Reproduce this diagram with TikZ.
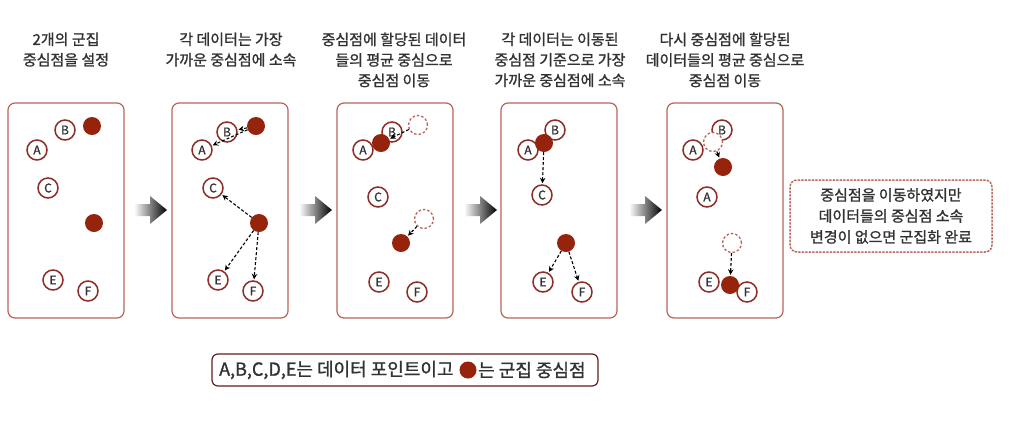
\documentclass[tikz,border=0pt]{standalone}
\usepackage{fontspec}
\setmainfont{Noto Sans CJK KR}[FakeBold=1.2]
\usetikzlibrary{positioning,arrows.meta}
\definecolor{DotRed}{RGB}{150,35,12}
\definecolor{RingRed}{RGB}{140,45,40}
\definecolor{FrameRed}{RGB}{185,100,90}
\definecolor{TextGray}{RGB}{50,50,50}
\tikzset{
	pt/.style={circle,draw=RingRed,fill=white,line width=1.5pt,minimum size=20pt,inner sep=0pt,
		font=\fontsize{12}{12}\selectfont,text=TextGray},
	cen/.style={circle,fill=DotRed,minimum size=18pt,inner sep=0pt},
	oldcen/.style={circle,draw=FrameRed,dash pattern=on 2.5pt off 2pt,fill=white,line width=1.3pt,
		minimum size=19pt,inner sep=0pt},
	move/.style={draw=black,dash pattern=on 3pt off 2pt,line width=1.1pt,-{Stealth[length=5.5pt,width=5.5pt]},shorten >=1pt},
	panel/.style={draw=FrameRed,line width=1.2pt,rounded corners=7pt},
	head/.style={align=center,text=TextGray,anchor=north,font=\fontsize{15}{20.5}\selectfont},
	note/.style={draw=FrameRed,line width=1.5pt,dash pattern=on 1.5pt off 2pt,line cap=round,rounded corners=7pt,
		align=center,text=TextGray,minimum width=202pt,minimum height=72pt,font=\fontsize{15}{21}\selectfont},
	keytext/.style={text=TextGray,inner sep=0pt,font=\fontsize{18}{18}\selectfont},
}

\begin{document}
\begin{tikzpicture}[x=1pt,y=-1pt]
	\useasboundingbox[fill=white] (0,0) rectangle (1010,424);
	% step captions
	\node[head] (h1) at (66,29) {2개의 군집\\중심점을 설정};
	\node[head] (h2) at (231,29) {각 데이터는 가장\\가까운 중심점에 소속};
	\node[head] (h3) at (394,29) {중심점에 할당된 데이터\\들의 평균 중심으로\\중심점 이동};
	\node[head] (h4) at (560,29) {각 데이터는 이동된\\중심점 기준으로 가장\\가까운 중심점에 소속};
	\node[head] (h5) at (725,29) {다시 중심점에 할당된\\데이터들의 평균 중심으로\\중심점 이동};
	% panels and step arrows
	\foreach \x in {8,172,337,501,667}
		\draw[panel] (\x,103) rectangle ++(116,215);
	\foreach \x in {134,299,464,629}
		\shade[left color=white,right color=black] (\x,204) -- (\x+16,204) -- (\x+16,196) -- (\x+33,210)
			-- (\x+16,224) -- (\x+16,216) -- (\x,216) -- cycle;
	% data points
	\foreach \p/\l/\x/\y in {a1/A/37/150,b1/B/65/130,c1/C/48/188,e1/E/53/280,f1/F/88/291,
		a2/A/202/150,b2/B/227/132,c2/C/213/188,e2/E/218/280,f2/F/253/291,
		a3/A/363/150,b3/B/392/132,c3/C/378/197,e3/E/379/282,f3/F/417/292,
		a4/A/528/150,b4/B/555/130,c4/C/542/195,e4/E/543/282,f4/F/582/292,
		a5/A/693/150,b5/B/722/130,c5/A/707/197,e5/E/709/282,f5/F/747/292}
		\node[pt] (\p) at (\x,\y) {\l};
	% old centroids
	\foreach \p/\x/\y in {o3t/418/125,o3b/424/219,o5t/713/142,o5b/732/243}
		\node[oldcen] (\p) at (\x,\y) {};
	% centroids
	\foreach \p/\x/\y in {k1t/92/126,k1b/94/223,k2t/256/126,k2b/259/223,k3t/381/143,k3b/401/243,
		k4t/544/143,k4b/566/243,k5t/723/167,k5b/730/285}
		\node[cen] (\p) at (\x,\y) {};
	% assignments and moves
	\foreach \s/\t in {k2t/b2,k2t/a2,k2b/c2,k2b/e2,k2b/f2,o3t/k3t,o3b/k3b,k4t/c4,k4b/e4,k4b/f4,o5t/k5t,o5b/k5b}
		\draw[move] (\s) -- (\t);
	\node[note] (done) at (891,216) {중심점을 이동하였지만\\데이터들의 중심점 소속\\변경이 없으면 군집화 완료};
	% legend
	\draw[draw=RingRed!70!black,line width=1.2pt,rounded corners=6pt] (212,354) rectangle (598,386);
	\node[keytext,anchor=west] (key1) at (219,370) {A,B,C,D,E는 데이터 포인트이고};
	\node[cen,minimum size=17pt] (keydot) at (468,370) {};
	\node[keytext,anchor=west] (key2) at (478,370) {는 군집 중심점};
\end{tikzpicture}
\end{document}
